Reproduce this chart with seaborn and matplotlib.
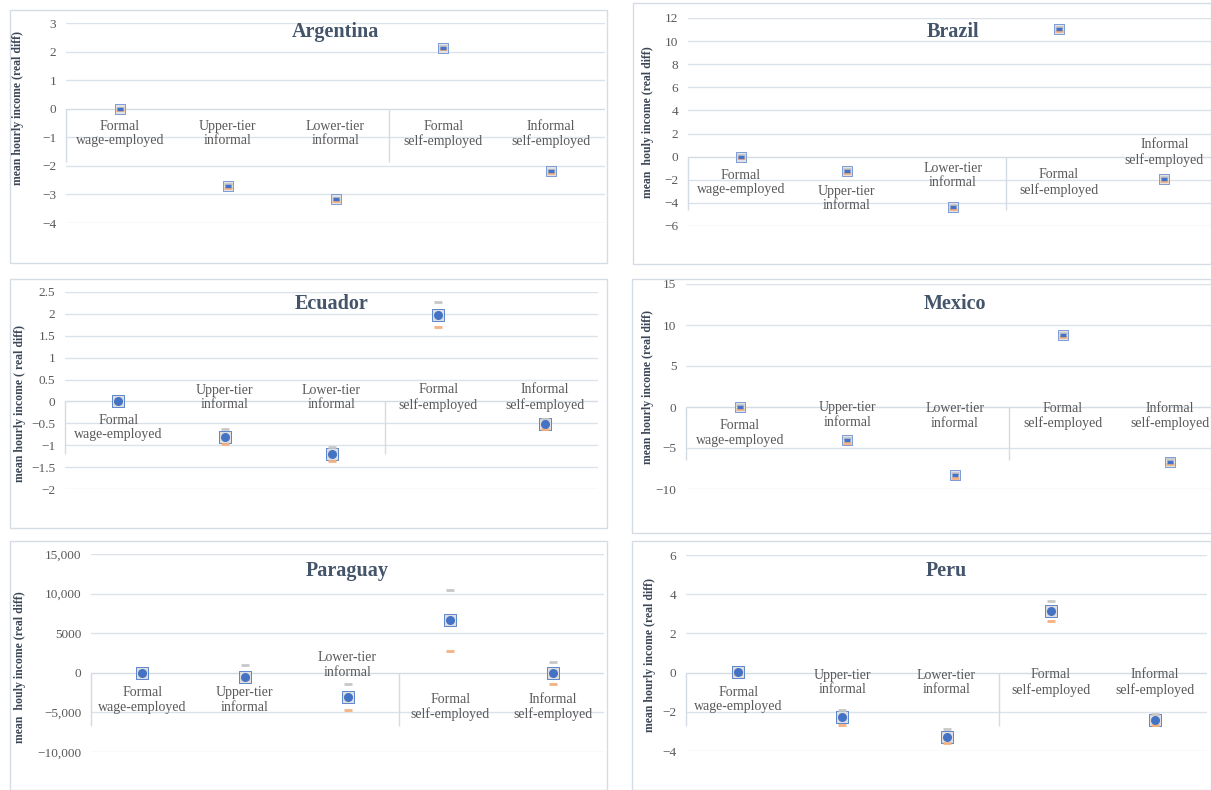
import numpy as np
import pandas as pd
import matplotlib.pyplot as plt
from matplotlib.patches import Rectangle
import seaborn as sns

W, H = 1211, 790

categories = ['Formal\nwage-employed', 'Upper-tier\ninformal', 'Lower-tier\ninformal',
              'Formal\nself-employed', 'Informal\nself-employed']

# mean difference, upper bound (grey dash), lower bound (orange dash)
arg_mean = [0.0, -2.70, -3.17, 2.14, -2.19]
arg_upper = [0.04, -2.64, -3.11, 2.20, -2.13]
arg_lower = [-0.04, -2.76, -3.23, 2.08, -2.25]

bra_mean = [0.0, -1.22, -4.35, 11.05, -1.95]
bra_upper = [0.12, -1.05, -4.18, 11.25, -1.78]
bra_lower = [-0.12, -1.38, -4.52, 10.85, -2.12]

ecu_mean = [0.0, -0.81, -1.20, 1.98, -0.51]
ecu_upper = [0.02, -0.63, -1.04, 2.27, -0.40]
ecu_lower = [-0.02, -0.97, -1.35, 1.71, -0.64]

mex_mean = [0.0, -4.05, -8.33, 8.78, -6.67]
mex_upper = [0.25, -3.75, -8.05, 9.05, -6.40]
mex_lower = [-0.25, -4.35, -8.60, 8.50, -6.95]

par_mean = [0.0, -500, -3100, 6620, -80]
par_upper = [150, 1000, -1470, 10470, 1380]
par_lower = [-150, -800, -4700, 2770, -1470]

per_mean = [0.03, -2.28, -3.27, 3.13, -2.42]
per_upper = [0.12, -1.90, -2.89, 3.65, -2.13]
per_lower = [-0.06, -2.66, -3.60, 2.61, -2.69]

panels = [
    dict(name='Argentina', mean=arg_mean, upper=arg_upper, lower=arg_lower,
         yticks=[3, 2, 1, 0, -1, -2, -3, -4],
         ylabels=['3', '2', '1', '0', '\u22121', '\u22122', '\u22123', '\u22124'],
         ylabel='mean hourly income (real diff)'),
    dict(name='Brazil', mean=bra_mean, upper=bra_upper, lower=bra_lower,
         yticks=[12, 10, 8, 6, 4, 2, 0, -2, -4, -6],
         ylabels=['12', '10', '8', '6', '4', '2', '0', '\u22122', '\u22124', '\u22126'],
         ylabel='mean  houly income (real diff)'),
    dict(name='Ecuador', mean=ecu_mean, upper=ecu_upper, lower=ecu_lower,
         yticks=[2.5, 2, 1.5, 1, 0.5, 0, -0.5, -1, -1.5, -2],
         ylabels=['2.5', '2', '1.5', '1', '0.5', '0', '\u22120.5', '\u22121', '\u22121.5', '\u22122'],
         ylabel='mean hourly income ( real diff)'),
    dict(name='Mexico', mean=mex_mean, upper=mex_upper, lower=mex_lower,
         yticks=[15, 10, 5, 0, -5, -10],
         ylabels=['15', '10', '5', '0', '\u22125', '\u221210'],
         ylabel='mean hourly income (real diff)'),
    dict(name='Paraguay', mean=par_mean, upper=par_upper, lower=par_lower,
         yticks=[15000, 10000, 5000, 0, -5000, -10000],
         ylabels=['15,000', '10,000', '5000', '0', '\u22125,000', '\u221210,000'],
         ylabel='mean  houly income (real diff)'),
    dict(name='Peru', mean=per_mean, upper=per_upper, lower=per_lower,
         yticks=[6, 4, 2, 0, -2, -4],
         ylabels=['6', '4', '2', '0', '\u22122', '\u22124'],
         ylabel='mean hourly income (real diff)'),
]

# layout in pixels: frame box, plot box (x0, y_top, x1, y_bottom), xlim right,
# title y, y label centre, label offsets below zero (px), mean marker style
layout = [
    dict(frame=(10, 10, 607, 263), plot=(66, 23, 605, 223), xr=4.5, ty=32, ylab=(18, 108),
         offs=[25, 25, 25, 25, 25], big=False),
    dict(frame=(633, 3, 1211, 264), plot=(688, 18, 1211, 226), xr=4.44, ty=32, ylab=(648, 122),
         offs=[26, 42, 19, 26, -4], big=False),
    dict(frame=(10, 279, 607, 528), plot=(65, 292, 598, 489), xr=4.5, ty=304, ylab=(20, 403),
         offs=[26, -4, -4, -4, -4], big=True),
    dict(frame=(632, 279, 1211, 533), plot=(686, 284, 1211, 489), xr=4.38, ty=304, ylab=(648, 387),
         offs=[26, 8, 9, 9, 9], big=False),
    dict(frame=(10, 541, 607, 790), plot=(91, 554, 604, 752), xr=4.5, ty=571, ylab=(20, 667),
         offs=[27, 27, -8, 34, 34], big=True),
    dict(frame=(632, 541, 1211, 790), plot=(686, 555, 1207, 751), xr=4.5, ty=571, ylab=(650, 655),
         offs=[27, 10, 10, 10, 10], big=True),
]

sns.set_theme(style='white')
plt.rcParams['font.family'] = ['Liberation Serif', 'DejaVu Serif']

fig = plt.figure(figsize=(W / 100, H / 100), dpi=100)
fig.patch.set_facecolor('white')

title_col = '#44546A'
tick_col = '#595959'
grid_col = '#DCE2EA'
axis_col = '#D5DBE4'
blue = '#4472C4'
grey = '#C8C8C8'
orange = '#F4B183'

for p, lay in zip(panels, layout):
    fx0, fy0, fx1, fy1 = lay['frame']
    fig.patches.append(Rectangle((fx0 / W, 1 - fy1 / H), (fx1 - fx0) / W, (fy1 - fy0) / H,
                                 transform=fig.transFigure, fill=False,
                                 edgecolor='#D6DCE5', linewidth=1.0))

    x0, yt, x1, yb = lay['plot']
    ax = fig.add_axes([x0 / W, 1 - yb / H, (x1 - x0) / W, (yb - yt) / H])
    ax.set_facecolor('none')

    df = pd.DataFrame({'pos': np.arange(len(categories)), 'cat': categories,
                       'mean': p['mean'], 'upper': p['upper'], 'lower': p['lower']})

    ymax, ymin = p['yticks'][0], p['yticks'][-1]
    ax.set_ylim(ymin, ymax)
    ax.set_xlim(-0.5, lay['xr'])
    ax.set_yticks(p['yticks'])
    ax.set_yticklabels(p['ylabels'], color=tick_col, fontsize=9.5)
    ax.set_xticks([])
    ax.tick_params(axis='y', length=0, pad=7)
    for sp in ax.spines.values():
        sp.set_visible(False)
    for t in p['yticks']:
        if t != 0:
            ax.axhline(t, color=grid_col, linewidth=1.0, zorder=0)
    ax.axhline(0, color=axis_col, linewidth=1.0, zorder=0.5)

    # category axis region below zero with left edge and divider
    per_px = (ymax - ymin) / (yb - yt)
    depth = 53 * per_px
    ax.vlines([-0.5, 2.5], -depth, 0, color=axis_col, linewidth=1.0, zorder=0.5, clip_on=False)

    for i, cat in enumerate(categories):
        ax.annotate(cat, xy=(i, 0), xytext=(0, -lay['offs'][i] * 0.72),
                    textcoords='offset points', ha='center', va='center',
                    fontsize=10, color=tick_col, linespacing=1.15)

    # selection box behind the mean, CI dashes over it, mean on top
    if lay['big']:
        sns.scatterplot(data=df, x='pos', y='mean', marker='s', s=80, color='#DEDEDE',
                        edgecolor='#5B85CF', linewidth=0.7, ax=ax, zorder=3, legend=False)
    else:
        sns.scatterplot(data=df, x='pos', y='mean', marker='s', s=50, color='#E2E2E2',
                        edgecolor='#7C9BD6', linewidth=0.7, ax=ax, zorder=3, legend=False)
    sns.scatterplot(data=df, x='pos', y='upper', marker='_', s=36, color=grey,
                    linewidth=2, ax=ax, zorder=4, legend=False)
    sns.scatterplot(data=df, x='pos', y='lower', marker='_', s=36, color=orange,
                    linewidth=2, ax=ax, zorder=4, legend=False)
    if lay['big']:
        sns.scatterplot(data=df, x='pos', y='mean', marker='o', s=42, color=blue,
                        edgecolor=blue, linewidth=0, ax=ax, zorder=5, legend=False)
    else:
        sns.scatterplot(data=df, x='pos', y='mean', marker='_', s=22, color=blue,
                        linewidth=2.5, ax=ax, zorder=5, legend=False)
    ax.set_xlabel('')
    ax.set_ylabel('')

    # title centred over the full plot area
    cx = (x0 + x0 + (x1 - x0) * 5.0 / (lay['xr'] + 0.5)) / 2
    fig.text(cx / W, 1 - lay['ty'] / H, p['name'], ha='center', va='center',
             fontsize=14.5, fontweight='bold', color=title_col)

    lx, ly = lay['ylab']
    fig.text(lx / W, 1 - ly / H, p['ylabel'], rotation=90, ha='center', va='center',
             fontsize=8.5, fontweight='bold', color='#3B4656')

fig.savefig('out.png', dpi=100, facecolor='white')
